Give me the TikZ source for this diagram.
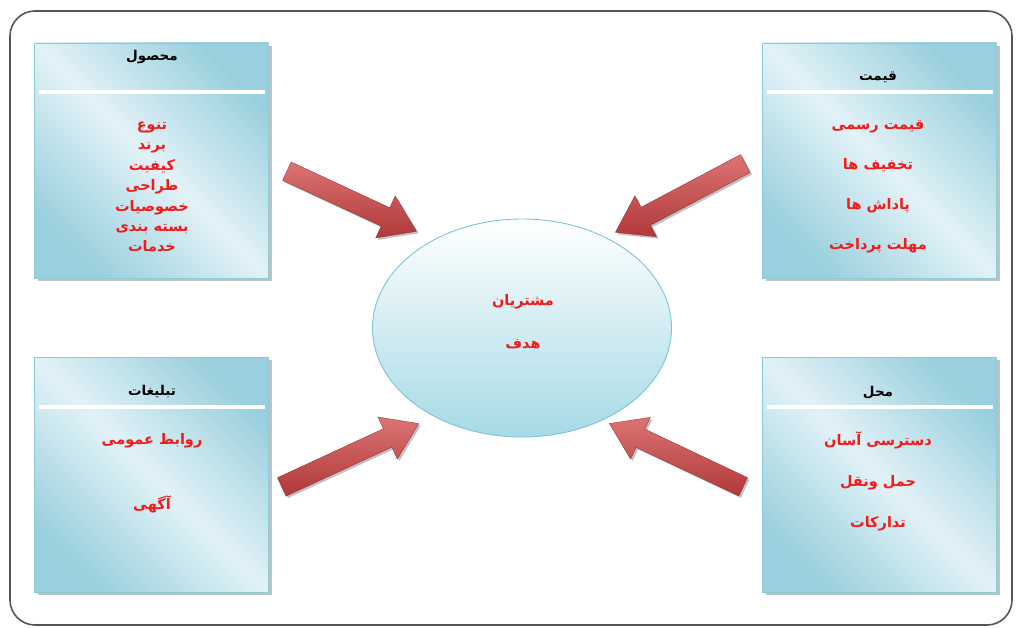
\documentclass[tikz,border=0pt]{standalone}
\usepackage{fontspec}
\TeXXeTstate=1
\newfontfamily\arabicfont[Script=Arabic]{DejaVu Sans}
\usetikzlibrary{shapes.geometric,shapes.arrows,shadows,calc}
\definecolor{boxin}{HTML}{E2F2F7}
\definecolor{boxout}{HTML}{9AD0DD}
\definecolor{boxline}{HTML}{8ACBDB}
\definecolor{ellbot}{HTML}{A6DAE6}
\definecolor{ellline}{HTML}{7EC3D6}
\definecolor{itemred}{HTML}{F41A1A}
\definecolor{arrtop}{HTML}{DC7474}
\definecolor{arrbot}{HTML}{B03838}
\definecolor{frameline}{HTML}{555555}
\newcommand\myrtl[1]{\beginR#1\endR}
\begin{document}
\begin{tikzpicture}[x=1pt,y=-1pt,
  panel/.style={draw=boxline, line width=0.8pt, left color=boxout, right color=boxout, middle color=boxin,
    shading angle=135,
    minimum width=234pt, minimum height=235pt, inner sep=0pt,
    drop shadow={shadow xshift=3pt, shadow yshift=-3pt, fill=black!40, opacity=0.6}},
  sepline/.style={draw=white, line width=4pt},
  titletext/.style={font=\arabicfont\bfseries\fontsize{13.5}{15}\selectfont, text=black, inner sep=0pt},
  itemtext/.style={font=\arabicfont\bfseries\fontsize{14.5}{#1}\selectfont, text=itemred, align=center, inner sep=0pt},
  bigarrow/.style={single arrow, minimum width=46pt, single arrow head extend=13pt,
    single arrow tip angle=68, inner xsep=0pt, inner ysep=10pt, top color=arrtop, bottom color=arrbot, draw=arrbot!80!black, line width=0.3pt,
    drop shadow={shadow xshift=2pt, shadow yshift=-2pt, fill=black!60, opacity=0.4}}
]
\useasboundingbox (0,0) rectangle (1016,628);
\fill[white] (0,0) rectangle (1016,628);
\draw[rounded corners=25pt, line width=1.6pt, draw=frameline] (10,11) rectangle (1012,625);

% panels
\node[panel] (prod) at (151.5,160.5) {};
\node[panel] (price) at (879.5,160.5) {};
\node[panel] (promo) at (151.5,474.5) {};
\node[panel] (place) at (879.5,474.5) {};

\draw[sepline] ($(prod.north west)+(5,49)$) -- ($(prod.north east)+(-4,49)$);
\draw[sepline] ($(price.north west)+(5,49)$) -- ($(price.north east)+(-4,49)$);
\draw[sepline] ($(promo.north west)+(5,50)$) -- ($(promo.north east)+(-4,50)$);
\draw[sepline] ($(place.north west)+(5,50)$) -- ($(place.north east)+(-4,50)$);

% titles
\node[titletext] (prodT) at (152,57) {\myrtl{محصول}};
\node[titletext] (priceT) at (878,77) {\myrtl{قیمت}};
\node[titletext] (promoT) at (152,392) {\myrtl{تبلیغات}};
\node[titletext] (placeT) at (878,393) {\myrtl{محل}};

% items
\node[itemtext=20.4] (prodI) at (152,187) {\myrtl{تنوع}\\\myrtl{برند}\\\myrtl{کیفیت}\\\myrtl{طراحی}\\\myrtl{خصوصیات}\\\myrtl{بسته بندی}\\\myrtl{خدمات}};
\node[itemtext=40] (priceI) at (878,187) {\myrtl{قیمت رسمی}\\\myrtl{تخفیف ها}\\\myrtl{پاداش ها}\\\myrtl{مهلت پرداخت}};
\node[itemtext=65] (promoI) at (152,473) {\myrtl{روابط عمومی}\\\myrtl{آگهی}};
\node[itemtext=41] (placeI) at (878,481) {\myrtl{دسترسی آسان}\\\myrtl{حمل ونقل}\\\myrtl{تدارکات}};

% center
\node[ellipse, minimum width=299pt, minimum height=218pt, top color=white, bottom color=ellbot,
  draw=ellline, line width=0.9pt] (cust) at (522,328) {};
\node[itemtext=43] (custT) at (523,322) {\myrtl{مشتریان}\\\myrtl{هدف}};

% arrows
\node[bigarrow, minimum height=143pt, rotate=-24.9] (aProd) at (344.9,198.1) {};
\node[bigarrow, minimum height=147pt, rotate=207.9] (aPrice) at (687,194.4) {};
\node[bigarrow, minimum height=151pt, rotate=24.8] (aPromo) at (343.4,458.4) {};
\node[bigarrow, minimum height=148pt, rotate=154.7] (aPlace) at (683.1,458.4) {};
\end{tikzpicture}
\end{document}
